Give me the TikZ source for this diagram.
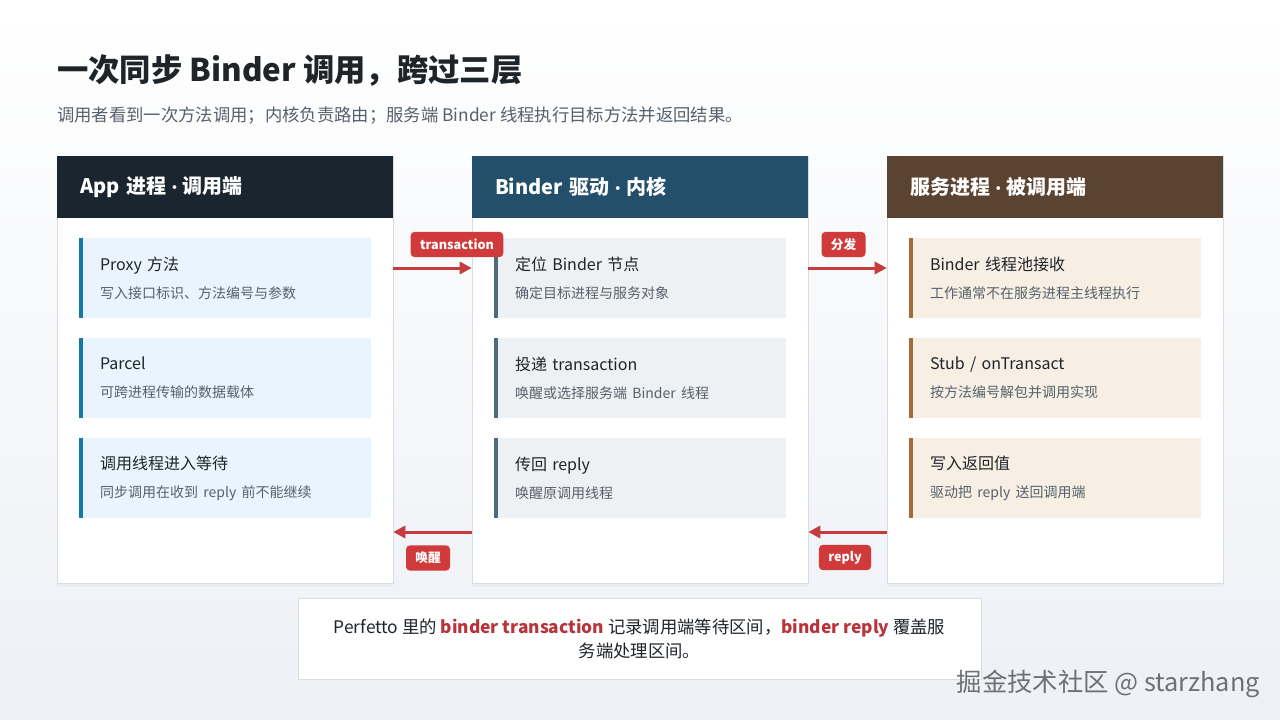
\documentclass[tikz,border=0pt]{standalone}
\usepackage{fontspec}
\setmainfont{Noto Sans CJK SC}
\newfontfamily\dotfont{Lato}
\usetikzlibrary{arrows.meta, shadows}

\definecolor{ink}{HTML}{1F2429}
\definecolor{subink}{HTML}{56616C}
\definecolor{bgbot}{HTML}{EDF0F5}
\definecolor{panelline}{HTML}{D8DDE3}
\definecolor{apphead}{HTML}{1B2530}
\definecolor{drvhead}{HTML}{234F6A}
\definecolor{svchead}{HTML}{5B4331}
\definecolor{appfill}{HTML}{E9F4FC}
\definecolor{drvfill}{HTML}{EDF1F4}
\definecolor{svcfill}{HTML}{F7EFE4}
\definecolor{appbar}{HTML}{1579A8}
\definecolor{drvbar}{HTML}{4E6A7E}
\definecolor{svcbar}{HTML}{A46C3A}
\definecolor{flowred}{HTML}{C63B3D}
\definecolor{tagred}{HTML}{D13A3A}
\definecolor{hlred}{HTML}{B8333A}
\definecolor{markgray}{HTML}{6E7073}

\tikzstyle{panel}=[draw=panelline, fill=white, inner sep=0pt, minimum width=252pt, minimum height=320.25pt, drop shadow={opacity=0.06, shadow xshift=0pt, shadow yshift=-3pt}]
\tikzstyle{head}=[inner xsep=17.25pt, text width=217.5pt, minimum height=46.5pt, align=left, text=white, font=\fontsize{15}{18}\selectfont\bfseries]
\tikzstyle{item}=[inner xsep=15.75pt, text width=187.5pt, minimum height=60pt, align=left, text=ink, font=\fontsize{12}{21}\selectfont]
\tikzstyle{bar}=[line width=3pt]
\tikzstyle{flow}=[draw=flowred, line width=2.25pt, -{Triangle[length=9pt, width=9pt]}]
\tikzstyle{tag}=[fill=tagred, text=white, rounded corners=3pt, inner xsep=7pt, minimum height=19pt, font=\fontsize{9.5}{11}\selectfont\bfseries]

\newcommand{\itemtext}[2]{#1\\{\fontsize{10.5}{21}\selectfont\color{subink}#2}}
\newcommand{\hl}[1]{{\bfseries\color{hlred}#1}}
\newcommand{\midsep}{\hspace{0.28em}{\dotfont\bfseries ·}\hspace{0.28em}}

\begin{document}
\begin{tikzpicture}[x=0.75pt, y=-0.75pt]
    \useasboundingbox (0,0) rectangle (1280,720);
    \shade [top color=white, bottom color=bgbot] (0,0) rectangle (1280,720);

    \node [anchor=west, inner sep=0pt, text=ink, font=\fontsize{23.5}{27}\selectfont\bfseries] (title) at (57,71) {一次同步 Binder 调用，跨过三层};
    \node [anchor=west, inner sep=0pt, text=subink, font=\fontsize{13}{15}\selectfont] (subtitle) at (57,116) {调用者看到一次方法调用；内核负责路由；服务端 Binder 线程执行目标方法并返回结果。};

    % three columns
    \node [panel] (app) at (225,369.5) {};
    \node [panel] (drv) at (640,369.5) {};
    \node [panel] (svc) at (1055,369.5) {};
    \node [head, fill=apphead] (apph) at (225,187) {App 进程\midsep 调用端};
    \node [head, fill=drvhead] (drvh) at (640,187) {Binder 驱动\midsep 内核};
    \node [head, fill=svchead] (svch) at (1055,187) {服务进程\midsep 被调用端};

    \node [item, fill=appfill] (a1) at (225,278) {\itemtext{Proxy 方法}{写入接口标识、方法编号与参数}};
    \node [item, fill=appfill] (a2) at (225,378) {\itemtext{Parcel}{可跨进程传输的数据载体}};
    \node [item, fill=appfill] (a3) at (225,478) {\itemtext{调用线程进入等待}{同步调用在收到 reply 前不能继续}};
    \node [item, fill=drvfill] (d1) at (640,278) {\itemtext{定位 Binder 节点}{确定目标进程与服务对象}};
    \node [item, fill=drvfill] (d2) at (640,378) {\itemtext{投递 transaction}{唤醒或选择服务端 Binder 线程}};
    \node [item, fill=drvfill] (d3) at (640,478) {\itemtext{传回 reply}{唤醒原调用线程}};
    \node [item, fill=svcfill] (s1) at (1055,278) {\itemtext{Binder 线程池接收}{工作通常不在服务进程主线程执行}};
    \node [item, fill=svcfill] (s2) at (1055,378) {\itemtext{Stub / onTransact}{按方法编号解包并调用实现}};
    \node [item, fill=svcfill] (s3) at (1055,478) {\itemtext{写入返回值}{驱动把 reply 送回调用端}};

    \foreach \n/\c in {a1/appbar,a2/appbar,a3/appbar,d1/drvbar,d2/drvbar,d3/drvbar,s1/svcbar,s2/svcbar,s3/svcbar}
        \draw [bar, \c] ([xshift=1.5pt]\n.north west) -- ([xshift=1.5pt]\n.south west);

    % call and return
    \coordinate (go) at (0,268);
    \coordinate (back) at (0,532);
    \draw [flow] (app.east |- go) -- (drv.west |- go);
    \draw [flow] (drv.east |- go) -- (svc.west |- go);
    \draw [flow] (svc.west |- back) -- (drv.east |- back);
    \draw [flow] (drv.west |- back) -- (app.east |- back);
    \node [tag] (txtag) at (457,244.5) {transaction};
    \node [tag] (dispatch) at (843.5,244.5) {分发};
    \node [tag] (wake) at (428,558) {唤醒};
    \node [tag] (replytag) at (845,557.5) {reply};

    \node [draw=panelline, fill=white, minimum width=512.25pt, minimum height=60.75pt, align=center, text=ink, font=\fontsize{13}{18}\selectfont] (note) at (639.5,638.5)
        {Perfetto 里的 \hl{binder transaction} 记录调用端等待区间，\hl{binder reply} 覆盖服\\务端处理区间。};

    \node [anchor=east, inner sep=0pt, text=markgray, font=\fontsize{19}{21}\selectfont] (mark) at (1260,684) {掘金技术社区 @ starzhang};
\end{tikzpicture}
\end{document}
